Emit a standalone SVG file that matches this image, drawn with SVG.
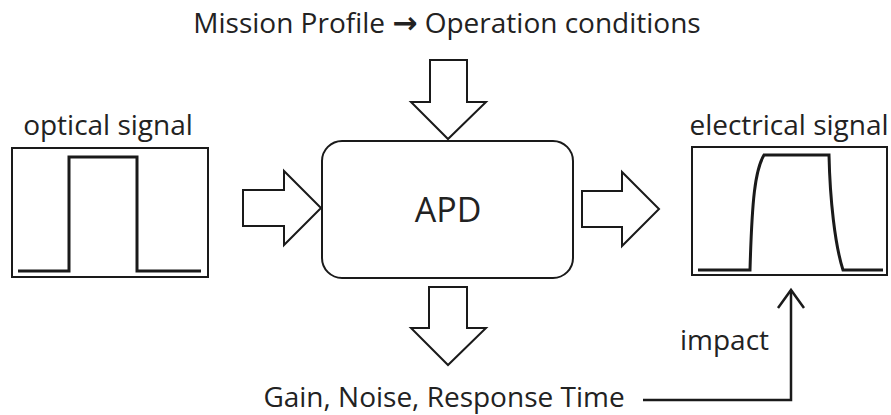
<svg xmlns="http://www.w3.org/2000/svg" width="891" height="415" viewBox="0 0 891 415">
<style>
.box{fill:#fff;stroke:#1a1a1a;stroke-width:2}
.blk{fill:#fff;stroke:#1a1a1a;stroke-width:2;stroke-linejoin:miter}
.sig{fill:none;stroke:#1a1a1a;stroke-width:3;stroke-linejoin:miter}
.lbl{font-family:"Open Sans","Noto Sans",sans-serif;font-size:28px;fill:#222}
.con{fill:none;stroke:#1a1a1a;stroke-width:2.5}
</style>
<rect width="891" height="415" fill="#fff"/>
<text class="lbl" x="447" y="33" text-anchor="middle">Mission Profile <tspan font-family="DejaVu Sans" font-weight="bold" font-size="30">→</tspan> Operation conditions</text>
<g id="optical">
  <text class="lbl" x="108" y="135" text-anchor="middle">optical signal</text>
  <rect class="box" x="12" y="148" width="196" height="129"/>
  <path class="sig" d="M18,271 H69 V157 H137 V271 H201"/>
</g>
<g id="apd">
  <rect class="box" x="322" y="141" width="251" height="137" rx="20" ry="20"/>
  <text class="lbl" x="448" y="222" text-anchor="middle" style="font-size:34px">APD</text>
</g>
<g id="electrical">
  <text class="lbl" x="789" y="135" text-anchor="middle">electrical signal</text>
  <rect class="box" x="692" y="147" width="195" height="128"/>
  <path class="sig" d="M698,270 H750 C752,200 755,170 764,155 H829 C830,200 835,245 843,270 H883"/>
</g>
<g id="impact-label">
  <text class="lbl" x="680" y="350">impact</text>
</g>
<g id="results">
  <text class="lbl" x="444" y="407" text-anchor="middle">Gain, Noise, Response Time</text>
</g>
<g id="connectors">
  <path class="blk" d="M243,190 H284 V171 L321,208 L284,245 V226 H243 Z"/>
  <path class="blk" d="M582,191 H622 V172 L659,209 L622,246 V227 H582 Z"/>
  <path class="blk" d="M430,60 H467 V102 H486 L448,139 L411,102 H430 Z"/>
  <path class="blk" d="M429,287 H467 V328 H486 L448,365 L411,328 H429 Z"/>
  <path class="con" d="M643,400 H791 V290"/>
  <path class="con" d="M778,308 L791,290 L804,308"/>
</g>
</svg>
